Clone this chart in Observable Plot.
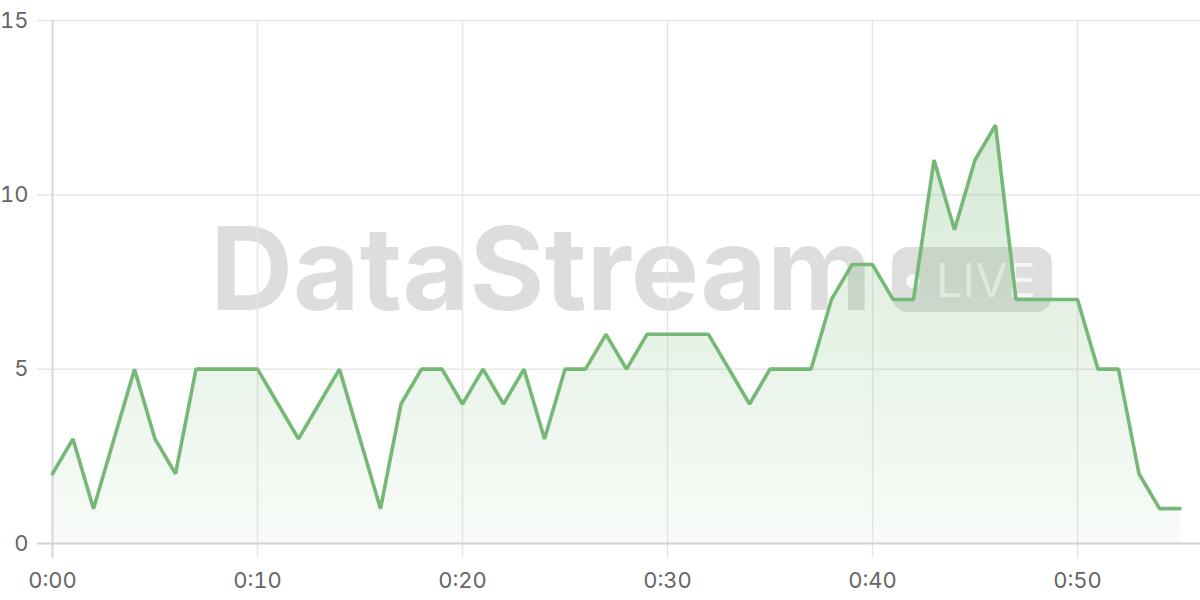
<!DOCTYPE html>
<html>
<head>
<meta charset="utf-8">
<script src="https://cdn.jsdelivr.net/npm/d3@7"></script>
<script src="https://cdn.jsdelivr.net/npm/@observablehq/plot@0.6"></script>
<style>
  html, body { margin: 0; padding: 0; background: #fff; }
  #wrap { position: relative; width: 1200px; height: 600px; overflow: hidden; }
  #wm, #chart { position: absolute; left: 0; top: 0; }
</style>
</head>
<body>
<div id="wrap">
  <svg id="wm" width="1200" height="600" viewBox="0 0 1200 600">
    <text x="210" y="310" font-family="Inter, sans-serif" font-weight="700" font-size="115" fill="rgba(0,0,0,0.135)" textLength="662" lengthAdjust="spacing">DataStream</text>
    <rect x="892" y="247" width="160" height="65" rx="16" fill="rgba(0,0,0,0.13)"></rect>
    <circle cx="913" cy="281" r="7" fill="rgba(255,255,255,0.8)"></circle>
    <text x="936" y="297" font-family="Inter, sans-serif" font-weight="400" font-size="47" fill="rgba(255,255,255,0.8)">LIVE</text>
  </svg>
  <div id="chart"></div>
</div>
<script>
// Minutes since start (x) and the plotted count (y)
const minutes = [
  0, 1, 2, 3, 4, 5, 6, 7, 8, 9,
  10, 11, 12, 13, 14, 15, 16, 17, 18, 19,
  20, 21, 22, 23, 24, 25, 26, 27, 28, 29,
  30, 31, 32, 33, 34, 35, 36, 37, 38, 39,
  40, 41, 42, 43, 44, 45, 46, 47, 48, 49,
  50, 51, 52, 53, 54, 55
];
const values = [
  2, 3, 1, 3, 5, 3, 2, 5, 5, 5,
  5, 4, 3, 4, 5, 3, 1, 4, 5, 5,
  4, 5, 4, 5, 3, 5, 5, 6, 5, 6,
  6, 6, 6, 5, 4, 5, 5, 5, 7, 8,
  8, 7, 7, 11, 9, 11, 12, 7, 7, 7,
  7, 5, 5, 2, 1, 1
];
const xTickValues = [0, 10, 20, 30, 40, 50];
const xTickLabels = ["0:00", "0:10", "0:20", "0:30", "0:40", "0:50"];
const yTickValues = [0, 5, 10, 15];
const xDomain = [0, 56];
const yDomain = [0, 15];

const data = minutes.map((t, i) => ({t, v: values[i]}));

const lineColor = "#76b876";

const gradientDefs = () => {
  const defs = d3.create("svg:defs");
  const g = defs.append("linearGradient")
    .attr("id", "areaGrad")
    .attr("x1", 0).attr("x2", 0).attr("y1", 0).attr("y2", 1);
  g.append("stop").attr("offset", "0%").attr("stop-color", lineColor).attr("stop-opacity", 0.3);
  g.append("stop").attr("offset", "100%").attr("stop-color", lineColor).attr("stop-opacity", 0.05);
  return defs.node();
};

const chart = Plot.plot({
  width: 1200,
  height: 600,
  marginTop: 20,
  marginBottom: 57,
  marginLeft: 52,
  marginRight: 0,
  style: {
    fontFamily: "Inter, sans-serif",
    fontSize: "22px",
    color: "#666",
    background: "transparent",
    overflow: "visible"
  },
  x: {domain: xDomain, label: null},
  y: {domain: yDomain, label: null},
  marks: [
    gradientDefs,
    Plot.gridY(yTickValues.slice(1), {stroke: "#e6e6e6", strokeOpacity: 1, strokeWidth: 1.5, insetLeft: -15}),
    Plot.gridX(xTickValues.slice(1), {stroke: "#e6e6e6", strokeOpacity: 1, strokeWidth: 1.5, insetBottom: -15}),
    Plot.areaY(data, {x: "t", y: "v", fill: "url(#areaGrad)"}),
    Plot.ruleY([0], {stroke: "#d2d2d2", strokeWidth: 2, insetLeft: -15}),
    Plot.ruleX([0], {stroke: "#d6d6d6", strokeWidth: 2, insetBottom: -15}),
    Plot.line(data, {x: "t", y: "v", stroke: lineColor, strokeWidth: 3.6, strokeLinejoin: "miter"}),
    Plot.axisX({
      ticks: xTickValues,
      tickFormat: d => xTickLabels[xTickValues.indexOf(d)],
      tickSize: 0,
      tickPadding: 29,
      label: null
    }),
    Plot.axisY({
      ticks: yTickValues,
      tickSize: 0,
      tickPadding: 24,
      label: null
    })
  ]
});
document.getElementById("chart").appendChild(chart);
</script>
</body>
</html>
